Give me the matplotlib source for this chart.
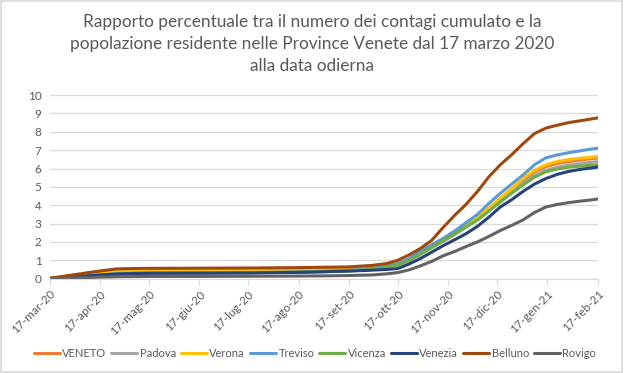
import pandas as pd
import matplotlib
matplotlib.use("Agg")
import matplotlib.pyplot as plt
from matplotlib.patches import Rectangle

plt.rcParams["font.family"] = ["Lato", "DejaVu Sans"]

dates = pd.to_datetime([
    "2020-03-17", "2020-03-27", "2020-04-06", "2020-04-17", "2020-04-27",
    "2020-05-07", "2020-05-17", "2020-06-17", "2020-07-17", "2020-08-17",
    "2020-09-01", "2020-09-17", "2020-10-01", "2020-10-10", "2020-10-17",
    "2020-10-24", "2020-10-31", "2020-11-07", "2020-11-14", "2020-11-21",
    "2020-11-28", "2020-12-05", "2020-12-12", "2020-12-19", "2020-12-26",
    "2021-01-02", "2021-01-09", "2021-01-16", "2021-01-23", "2021-01-30",
    "2021-02-06", "2021-02-13", "2021-02-17",
])

veneto = [0.01, 0.07, 0.17, 0.27, 0.33, 0.36, 0.38, 0.39, 0.40, 0.43, 0.46, 0.50, 0.58, 0.66, 0.76, 1.00, 1.35,
          1.72, 2.08, 2.45, 2.85, 3.25, 3.78, 4.30, 4.82, 5.35, 5.80, 6.10, 6.27, 6.38, 6.46, 6.53, 6.57]
padova = [0.02, 0.10, 0.20, 0.30, 0.35, 0.38, 0.40, 0.41, 0.42, 0.45, 0.48, 0.52, 0.60, 0.66, 0.74, 0.98, 1.32,
          1.68, 2.03, 2.40, 2.80, 3.20, 3.70, 4.20, 4.70, 5.20, 5.60, 5.90, 6.07, 6.19, 6.27, 6.34, 6.38]
verona = [0.02, 0.12, 0.25, 0.38, 0.44, 0.47, 0.49, 0.50, 0.50, 0.52, 0.54, 0.57, 0.63, 0.70, 0.80, 1.05, 1.40,
          1.75, 2.10, 2.50, 2.90, 3.30, 3.85, 4.38, 4.90, 5.45, 5.90, 6.20, 6.38, 6.49, 6.56, 6.62, 6.66]
treviso = [0.01, 0.06, 0.13, 0.20, 0.25, 0.28, 0.30, 0.31, 0.32, 0.36, 0.40, 0.45, 0.55, 0.67, 0.82, 1.10, 1.50,
           1.85, 2.20, 2.60, 3.05, 3.50, 4.10, 4.65, 5.15, 5.65, 6.20, 6.58, 6.74, 6.86, 6.96, 7.06, 7.11]
vicenza = [0.01, 0.05, 0.12, 0.20, 0.25, 0.28, 0.30, 0.31, 0.32, 0.35, 0.38, 0.42, 0.50, 0.62, 0.75, 1.00, 1.35,
           1.72, 2.08, 2.45, 2.82, 3.20, 3.68, 4.18, 4.65, 5.10, 5.52, 5.82, 5.97, 6.07, 6.13, 6.18, 6.20]
venezia = [0.01, 0.06, 0.13, 0.20, 0.25, 0.28, 0.29, 0.30, 0.31, 0.34, 0.37, 0.41, 0.46, 0.50, 0.55, 0.80, 1.10,
           1.45, 1.80, 2.12, 2.45, 2.85, 3.35, 3.90, 4.30, 4.75, 5.15, 5.45, 5.68, 5.84, 5.95, 6.03, 6.08]
belluno = [0.02, 0.15, 0.28, 0.42, 0.53, 0.55, 0.56, 0.57, 0.58, 0.60, 0.62, 0.64, 0.72, 0.82, 1.00, 1.30, 1.65,
           2.10, 2.80, 3.45, 4.05, 4.75, 5.55, 6.20, 6.75, 7.35, 7.90, 8.20, 8.36, 8.50, 8.60, 8.70, 8.76]
rovigo = [0.00, 0.02, 0.05, 0.08, 0.10, 0.11, 0.12, 0.12, 0.13, 0.14, 0.15, 0.17, 0.20, 0.26, 0.33, 0.48, 0.70,
          0.95, 1.25, 1.48, 1.75, 2.00, 2.30, 2.62, 2.90, 3.20, 3.60, 3.90, 4.04, 4.14, 4.22, 4.29, 4.34]

names = ["VENETO", "Padova", "Verona", "Treviso", "Vicenza", "Venezia", "Belluno", "Rovigo"]
series = [veneto, padova, verona, treviso, vicenza, venezia, belluno, rovigo]
colors = ["#ED7D31", "#A5A5A5", "#FFC000", "#5B9BD5", "#70AD47", "#264478", "#9E480E", "#636363"]

tick_dates = pd.to_datetime([
    "2020-03-17", "2020-04-17", "2020-05-17", "2020-06-17", "2020-07-17", "2020-08-17",
    "2020-09-17", "2020-10-17", "2020-11-17", "2020-12-17", "2021-01-17", "2021-02-17",
])
tick_labels = ["17-mar-20", "17-apr-20", "17-mag-20", "17-giu-20", "17-lug-20", "17-ago-20",
               "17-set-20", "17-ott-20", "17-nov-20", "17-dic-20", "17-gen-21", "17-feb-21"]

fig = plt.figure(figsize=(6.24, 3.73), dpi=100)
ax = fig.add_axes([0.080, 0.253, 0.878, 0.492])

for name, vals, c in zip(names, series, colors):
    ax.plot(dates, vals, color=c, lw=2.2, label=name, solid_capstyle="round")

ax.set_xlim(tick_dates[0], tick_dates[-1])
ax.set_ylim(0, 10)
ax.set_yticks(range(0, 11))
ax.grid(axis="y", color="#D9D9D9", lw=0.9)
ax.set_axisbelow(True)
for s in ["top", "right", "left"]:
    ax.spines[s].set_visible(False)
ax.spines["bottom"].set_color("#D9D9D9")
ax.tick_params(axis="y", length=0, labelsize=8.5, labelcolor="#595959", pad=6)
ax.set_xticks(tick_dates)
ax.set_xticklabels(tick_labels, rotation=45, ha="right", rotation_mode="anchor")
ax.tick_params(axis="x", length=4, color="#D9D9D9", labelsize=8.5, labelcolor="#595959", pad=3)

fig.text(0.5, 0.882, "Rapporto percentuale tra il numero dei contagi cumulato e la\n"
         "popolazione residente nelle Province Venete dal 17 marzo 2020\n"
         "alla data odierna", ha="center", va="center", fontsize=12.4, color="#595959",
         linespacing=1.45)

fig.legend(loc="center", bbox_to_anchor=(0.505, 0.053), ncol=8, frameon=False, fontsize=8,
           handlelength=2.3, handletextpad=0.25, columnspacing=0.45, labelcolor="#595959",
           borderaxespad=0)

fig.add_artist(Rectangle((0.002, 0.003), 0.995, 0.993, transform=fig.transFigure,
                         fill=False, edgecolor="#D9D9D9", lw=1.2))

fig.savefig("out.png", dpi=100)
